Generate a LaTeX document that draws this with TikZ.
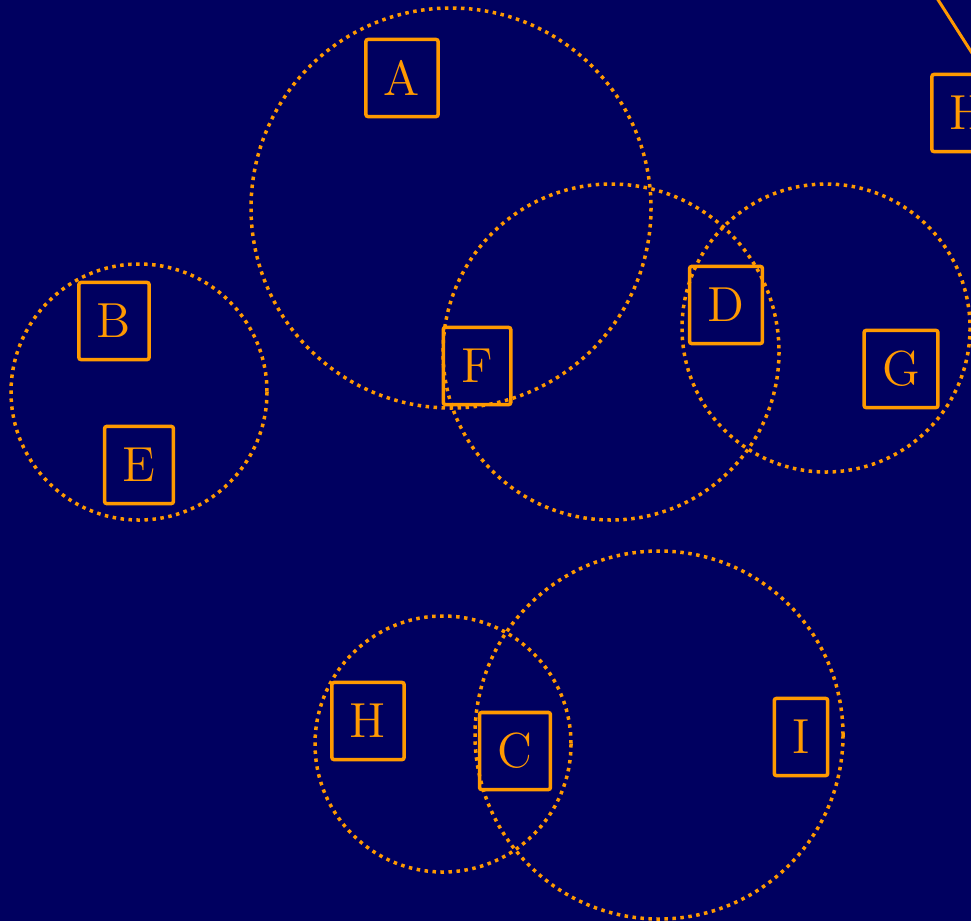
\documentclass[tikz,border=0pt]{standalone}
\usepackage{tikz}
\usetikzlibrary{positioning,calc}
\definecolor{bgnavy}{RGB}{0,0,96}
\definecolor{ornge}{RGB}{255,153,0}

\begin{document}
\begin{tikzpicture}[x=0.01cm,y=-0.01cm,
  ring/.style={draw=ornge,line width=0.035cm,dash pattern=on 0.035cm off 0.045cm},
  box/.style={draw=ornge,line width=0.035cm,rounded corners=0.02cm,text=ornge,font=\fontsize{14}{16}\selectfont,minimum height=0.77cm,inner xsep=0.18cm},
  link/.style={draw=ornge,line width=0.03cm}]
\fill[bgnavy] (0,0) rectangle (971,921);
\clip (0,0) rectangle (971,921);
% groups
\draw[ring] (451,208) circle[radius=200];
\draw[ring] (139,392) circle[radius=128];
\draw[ring] (611,352) circle[radius=168];
\draw[ring] (826,328) circle[radius=144];
\draw[ring] (443,744) circle[radius=128];
\draw[ring] (659,735) circle[radius=184];
% members
\node[box] (A) at (402,78) {A};
\node[box] (B) at (114,321) {B};
\node[box] (E) at (139,465) {E};
\node[box] (F) at (477,366) {F};
\node[box] (D) at (726,305) {D};
\node[box] (G) at (901,369) {G};
\node[box] (Hr) at (968,113) {H};
\node[box] (H) at (368,721) {H};
\node[box] (C) at (515,751) {C};
\node[box] (I) at (801,737) {I};
\coordinate (up) at (919,-30);
\coordinate (Hin) at (986,75);
\draw[link] (up) -- (Hin);
\end{tikzpicture}
\end{document}
